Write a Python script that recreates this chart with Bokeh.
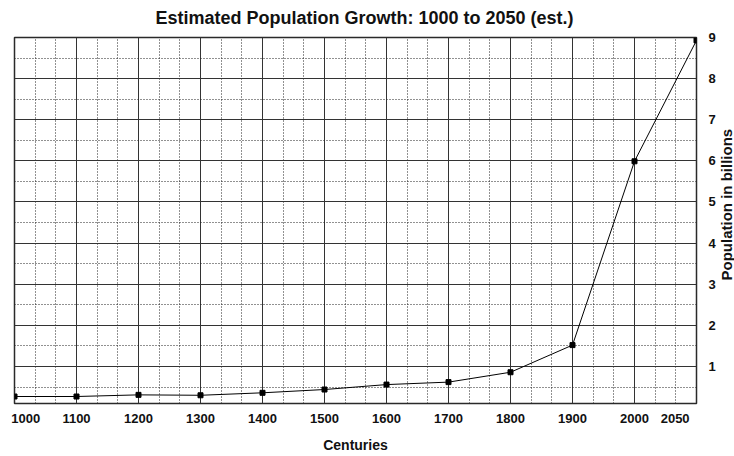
import math
from bokeh.plotting import figure
from bokeh.models import FixedTicker, Range1d
from bokeh.layouts import row, column
from bokeh.core.properties import value
from bokeh.embed import file_html
from bokeh.resources import INLINE

# ---- data ----
year_labels = ["1000", "1100", "1200", "1300", "1400", "1500", "1600",
               "1700", "1800", "1900", "2000", "2050"]
population_billions = [0.27, 0.27, 0.31, 0.30, 0.36, 0.44, 0.56,
                       0.62, 0.86, 1.52, 5.99, 8.93]
y_tick_values = [1, 2, 3, 4, 5, 6, 7, 8, 9]

title_text = "Estimated Population Growth: 1000 to 2050 (est.)"
x_title = "Centuries"
y_title = "Population in billions"

FONT = "Liberation Sans"
NB = "\u00a0"
INK = "#111111"

x_pos = list(range(len(year_labels)))


def text_strip(w, h):
    f = figure(width=w, height=h, output_backend="svg", toolbar_location=None,
               x_range=Range1d(0, w), y_range=Range1d(h, 0),
               x_axis_location=None, y_axis_location=None,
               min_border_left=0, min_border_right=0,
               min_border_top=0, min_border_bottom=0)
    f.outline_line_color = None
    f.grid.visible = False
    f.background_fill_color = "white"
    f.border_fill_color = "white"
    return f


# ---- title strip ----
TITLE_H = 28
top = text_strip(734, TITLE_H)
top.text(x=[155], y=[17], text=[title_text], text_align="left", text_baseline="middle",
         text_font=value(FONT), text_font_size="18px", text_font_style="bold",
         text_color=INK)

# ---- main chart ----
MAIN_H = 427
p = figure(width=718, height=MAIN_H, output_backend="svg", toolbar_location=None,
           x_range=Range1d(x_pos[0], x_pos[-1]), y_range=Range1d(0.1, 9.0),
           y_axis_location="right",
           min_border_left=14, min_border_right=22,
           min_border_top=9, min_border_bottom=50)

p.background_fill_color = "white"
p.border_fill_color = "white"
p.outline_line_color = "#2a2a2a"
p.outline_line_width = 1.5

# x axis (indexed categories, evenly spaced)
minor_x = [i + k / 3 for i in x_pos[:-1] for k in (1, 2)]
xt = FixedTicker(ticks=x_pos, minor_ticks=minor_x)
xax = p.xaxis[0]
xax.ticker = xt
overrides = {i: lab for i, lab in zip(x_pos, year_labels)}
# first / last labels sit inside the frame edges, as in the reference
overrides[x_pos[0]] = NB * 3 + year_labels[0]
overrides[x_pos[-1]] = year_labels[-1] + NB * 8
xax.major_label_overrides = overrides
xax.axis_line_color = None
xax.major_tick_line_color = None
xax.minor_tick_line_color = None
xax.major_label_text_font = FONT
xax.major_label_text_font_size = "13px"
xax.major_label_text_font_style = "bold"
xax.major_label_text_color = INK
xax.major_label_standoff = 1
xax.axis_label = x_title
xax.axis_label_text_font = FONT
xax.axis_label_text_font_size = "14px"
xax.axis_label_text_font_style = "bold"
xax.axis_label_text_color = INK
xax.axis_label_standoff = 8

# y axis (right) - tick labels; its title is drawn in a narrow strip beside it
minor_y = [v + 0.5 for v in [0] + y_tick_values[:-1]]
yt = FixedTicker(ticks=y_tick_values, minor_ticks=minor_y)
yax = p.yaxis[0]
yax.ticker = yt
yax.axis_line_color = None
yax.major_tick_line_color = None
yax.minor_tick_line_color = None
yax.major_label_text_font = FONT
yax.major_label_text_font_size = "13px"
yax.major_label_text_font_style = "bold"
yax.major_label_text_color = INK
yax.major_label_standoff = 6

# grids
for g in (p.xgrid[0], p.ygrid[0]):
    g.grid_line_color = "#333333"
    g.grid_line_width = 1
    g.grid_line_alpha = 1
    g.minor_grid_line_color = "#222222"
    g.minor_grid_line_dash = "1 2"
    g.minor_grid_line_width = 1
p.xgrid[0].ticker = xt
p.ygrid[0].ticker = yt

# data
p.line(x_pos, population_billions, line_color="black", line_width=1)
p.scatter(x_pos, population_billions, marker="square", size=5,
          fill_color="black", line_color="black")

# ---- strip holding the rotated y-axis title (reads bottom to top) ----
side = text_strip(16, MAIN_H)
side.text(x=[8], y=[195], text=[y_title], angle=math.pi / 2,
          text_align="center", text_baseline="middle",
          text_font=value(FONT), text_font_size="15px", text_font_style="bold",
          text_color=INK)

layout = column(top, row(p, side, spacing=0), spacing=0)
open("out.html", "w").write(file_html(layout, INLINE))
